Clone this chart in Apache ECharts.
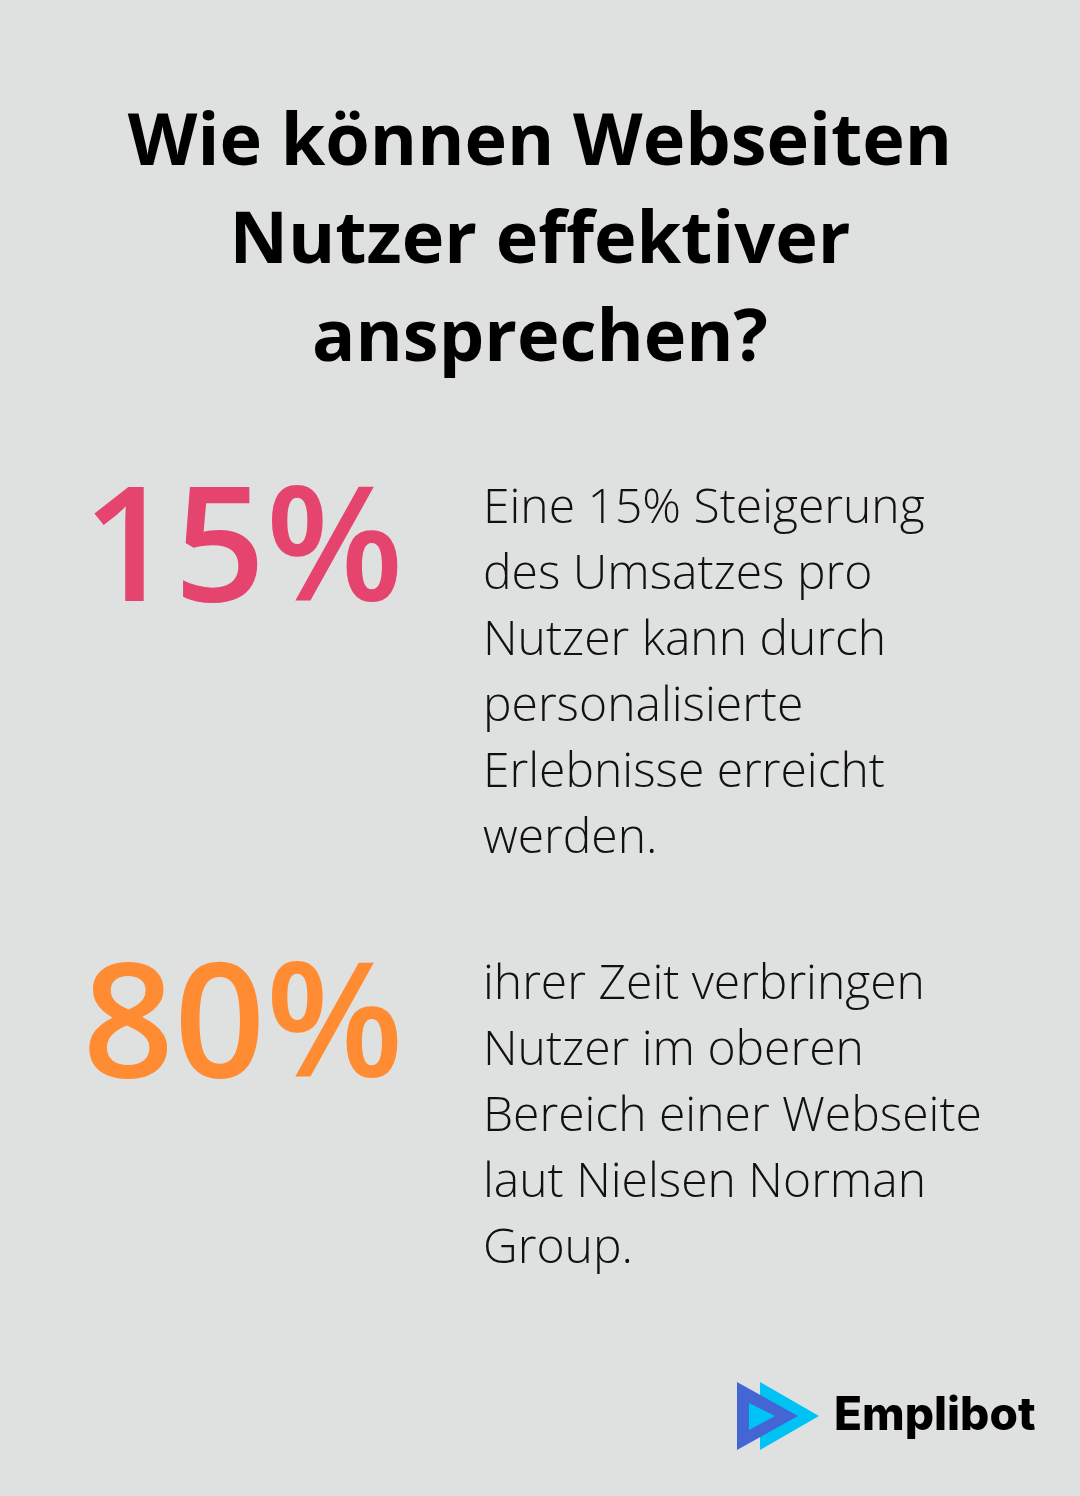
<!DOCTYPE html>
<html lang="de">
<head>
    <meta charset="UTF-8">
    <title>Wie können Webseiten Nutzer effektiver ansprechen?</title>
    <script type="text/javascript" src="https://cdn.jsdelivr.net/npm/echarts@6/dist/echarts.min.js"></script>
    <style>
        html, body { margin: 0; padding: 0; background: #dfe1e0; }
    </style>
</head>
<body>
<div id="main" style="width: 1080px;height:1496px;"></div>
<script type="text/javascript">
    // Inhalt
    var titleLines = ['Wie können Webseiten', 'Nutzer effektiver', 'ansprechen?'];
    var statValues = [15, 80];
    var statTexts = [
        ['Eine 15% Steigerung', 'des Umsatzes pro', 'Nutzer kann durch', 'personalisierte', 'Erlebnisse erreicht', 'werden.'],
        ['ihrer Zeit verbringen', 'Nutzer im oberen', 'Bereich einer Webseite', 'laut Nielsen Norman', 'Group.']
    ];
    var brandName = 'Emplibot';

    var statColors = ['#e5446f', '#ff8c33'];
    var statTops = [476, 952];

    var elements = [];

    // Titel
    elements.push({
        type: 'text',
        x: 540,
        y: 144 - 49,
        style: {
            text: titleLines.join('\n'),
            font: 'bold 72px "Open Sans"',
            fill: '#000000',
            align: 'center',
            verticalAlign: 'top',
            lineHeight: 98
        }
    });

    statValues.forEach(function (v, i) {
        var numCenter = statTops[i] + 79;
        elements.push({
            type: 'text',
            x: 243,
            y: numCenter,
            style: {
                text: v + '%',
                font: '600 160px "Open Sans"',
                fill: statColors[i],
                align: 'center',
                verticalAlign: 'middle'
            }
        });
        elements.push({
            type: 'text',
            x: 483,
            y: statTops[i],
            style: {
                text: statTexts[i].join('\n'),
                font: '300 48px "Open Sans"',
                fill: '#111111',
                align: 'left',
                verticalAlign: 'top',
                lineHeight: 66
            }
        });
    });

    // Logo
    elements.push({
        type: 'polygon',
        shape: { points: [[760, 1382], [819, 1416], [760, 1450]] },
        style: { fill: '#00c3f5' }
    });
    elements.push({
        type: 'polygon',
        shape: { points: [[737, 1382], [798, 1416], [737, 1450]] },
        style: { fill: '#4466d4' }
    });
    elements.push({
        type: 'polygon',
        shape: { points: [[749, 1403], [775, 1416], [749, 1430]] },
        style: { fill: '#00c3f5' }
    });
    elements.push({
        type: 'text',
        x: 834,
        y: 1416,
        style: {
            text: brandName,
            font: '800 46px Inter',
            fill: '#000000',
            align: 'left',
            verticalAlign: 'middle'
        }
    });

    var myChart = echarts.init(document.getElementById('main'));
    myChart.setOption({
        backgroundColor: '#dfe1e0',
        graphic: { elements: elements }
    });
</script>
</body>
</html>
